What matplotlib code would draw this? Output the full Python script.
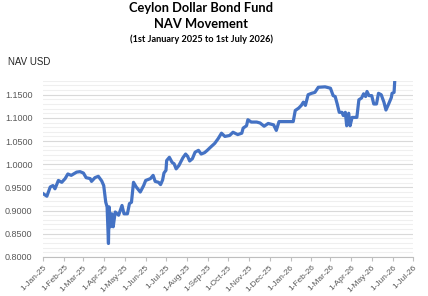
import pandas as pd
import matplotlib.pyplot as plt
import matplotlib.dates as mdates
from matplotlib.ticker import MultipleLocator, FormatStrFormatter

# NAV readings
dates = [
    "2025-01-01", "2025-01-06", "2025-01-11", "2025-01-15", "2025-01-18", "2025-01-23",
    "2025-01-28", "2025-02-02", "2025-02-06", "2025-02-11", "2025-02-19", "2025-02-24",
    "2025-03-01", "2025-03-05", "2025-03-11", "2025-03-13", "2025-03-18", "2025-03-23",
    "2025-03-28", "2025-03-31", "2025-04-03", "2025-04-05", "2025-04-07", "2025-04-08",
    "2025-04-10", "2025-04-12", "2025-04-14", "2025-04-17", "2025-04-22", "2025-04-27",
    "2025-04-30", "2025-05-05", "2025-05-08", "2025-05-11", "2025-05-14", "2025-05-18",
    "2025-05-24", "2025-05-29", "2025-06-01", "2025-06-08", "2025-06-12", "2025-06-15",
    "2025-06-20", "2025-06-23", "2025-06-26", "2025-06-28", "2025-07-01", "2025-07-02",
    "2025-07-06", "2025-07-10", "2025-07-13", "2025-07-16", "2025-07-20", "2025-07-26",
    "2025-07-30", "2025-08-02", "2025-08-05", "2025-08-09", "2025-08-13", "2025-08-18",
    "2025-08-22", "2025-08-27", "2025-08-31", "2025-09-05", "2025-09-11", "2025-09-16",
    "2025-09-21", "2025-09-26", "2025-10-03", "2025-10-08", "2025-10-15", "2025-10-21",
    "2025-10-23", "2025-10-28", "2025-10-30", "2025-11-04", "2025-11-12", "2025-11-17",
    "2025-11-23", "2025-11-29", "2025-12-07", "2025-12-11", "2025-12-15", "2025-12-21",
    "2026-01-05", "2026-01-08", "2026-01-13", "2026-01-17", "2026-01-20", "2026-01-23",
    "2026-01-27", "2026-02-01", "2026-02-06", "2026-02-11", "2026-02-21", "2026-03-01",
    "2026-03-05", "2026-03-08", "2026-03-11", "2026-03-14", "2026-03-18", "2026-03-20",
    "2026-03-23", "2026-03-25", "2026-03-28", "2026-03-30", "2026-04-02", "2026-04-06",
    "2026-04-09", "2026-04-12", "2026-04-16", "2026-04-19", "2026-04-22", "2026-04-24",
    "2026-04-27", "2026-05-01", "2026-05-04", "2026-05-08", "2026-05-11", "2026-05-15",
    "2026-05-19", "2026-05-22", "2026-05-26", "2026-05-30", "2026-05-31", "2026-06-03",
    "2026-06-04",
]
nav = [
    0.936, 0.931, 0.951, 0.954, 0.947, 0.965,
    0.961, 0.969, 0.979, 0.976, 0.983, 0.984,
    0.981, 0.971, 0.969, 0.963, 0.971, 0.974,
    0.964, 0.954, 0.918, 0.908, 0.829, 0.908,
    0.865, 0.893, 0.865, 0.897, 0.890, 0.911,
    0.893, 0.893, 0.915, 0.918, 0.961, 0.951,
    0.940, 0.954, 0.965, 0.969, 0.976, 0.963,
    0.961, 0.956, 0.966, 0.981, 0.987, 1.008,
    1.015, 1.004, 1.001, 0.990, 0.997, 1.014,
    1.022, 1.017, 1.007, 1.012, 1.026, 1.030,
    1.022, 1.025, 1.030, 1.037, 1.045, 1.055,
    1.067, 1.060, 1.062, 1.069, 1.064, 1.067,
    1.078, 1.083, 1.096, 1.091, 1.091, 1.089,
    1.082, 1.088, 1.085, 1.073, 1.092, 1.092,
    1.092, 1.116, 1.121, 1.127, 1.134, 1.127,
    1.150, 1.153, 1.155, 1.166, 1.167, 1.164,
    1.148, 1.146, 1.130, 1.112, 1.112, 1.105,
    1.112, 1.083, 1.110, 1.083, 1.101, 1.101,
    1.101, 1.139, 1.143, 1.152, 1.146, 1.157,
    1.148, 1.148, 1.130, 1.130, 1.153, 1.150,
    1.134, 1.117, 1.130, 1.144, 1.153, 1.155,
    1.180,
]

x = pd.to_datetime(dates)

fig = plt.figure(figsize=(4.28, 2.96), dpi=100)
ax = fig.add_axes([0.1016, 0.132, 0.8634, 0.595])

ax.plot(x, nav, color="#4472C4", linewidth=2.3, solid_joinstyle="round")

ax.set_xlim(pd.Timestamp("2025-01-01"), pd.Timestamp("2026-07-01"))
ax.set_ylim(0.8, 1.18)

# gridlines: major every 0.05, minor every 0.01
ax.yaxis.set_major_locator(MultipleLocator(0.05))
ax.yaxis.set_minor_locator(MultipleLocator(0.01))
ax.yaxis.set_major_formatter(FormatStrFormatter("%.4f"))
ax.grid(axis="y", which="major", color="#d9d9d9", linewidth=0.8)
ax.grid(axis="y", which="minor", color="#efefef", linewidth=0.8)
ax.set_axisbelow(True)

ax.xaxis.set_major_locator(mdates.MonthLocator())
ax.xaxis.set_major_formatter(mdates.DateFormatter("1-%b-%y"))
for lab in ax.get_xticklabels():
    lab.set_rotation(45)
    lab.set_ha("right")
    lab.set_rotation_mode("anchor")

ax.tick_params(axis="y", which="both", length=0, labelsize=6.5, labelcolor="#595959", pad=8)
ax.tick_params(axis="x", length=3, color="#bfbfbf", labelsize=6, labelcolor="#595959", pad=2)

for s in ["top", "right", "left"]:
    ax.spines[s].set_visible(False)
ax.spines["bottom"].set_color("#bfbfbf")

for lab in ax.get_xticklabels() + ax.get_yticklabels():
    lab.set_family("Liberation Sans")

fig.text(0.47, 0.972, "Ceylon Dollar Bond Fund", ha="center", va="center",
         fontsize=9.3, fontweight="bold", family="Lato")
fig.text(0.47, 0.918, "NAV Movement", ha="center", va="center",
         fontsize=9.3, fontweight="bold", family="Lato")
fig.text(0.47, 0.868, "(1st January 2025 to 1st July 2026)", ha="center", va="center",
         fontsize=6.6, fontweight="bold", family="Lato")
fig.text(0.019, 0.79, "NAV USD", ha="left", va="center", fontsize=7,
         color="#262626", family="Liberation Sans")

fig.savefig("out.png", dpi=100)
